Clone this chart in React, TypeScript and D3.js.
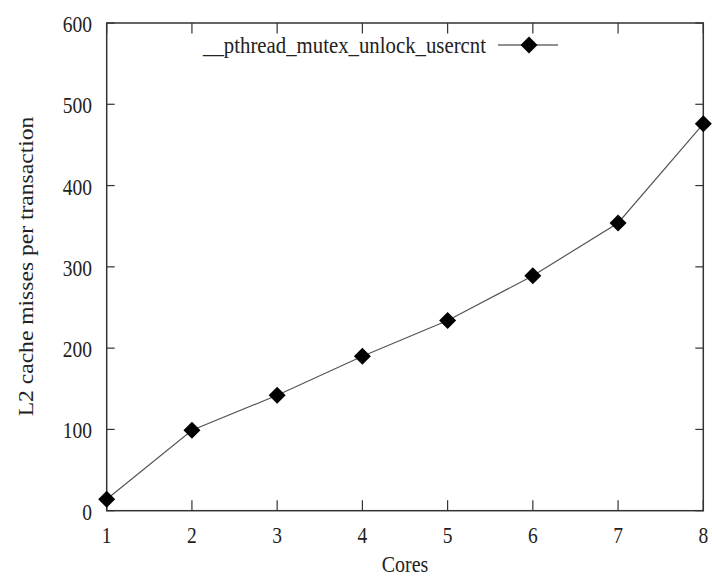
import React from "react";
import * as d3 from "d3";

const cores = [1, 2, 3, 4, 5, 6, 7, 8];
const misses = [14, 99, 142, 190, 234, 289, 354, 476];
const yTicks = [0, 100, 200, 300, 400, 500, 600];
const xTicks = [1, 2, 3, 4, 5, 6, 7, 8];
const seriesName = "__pthread_mutex_unlock_usercnt";
const xTitle = "Cores";
const yTitle = "L2 cache misses per transaction";

const W = 712, H = 578;
const M = { left: 106.7, right: 703.3, top: 23, bottom: 510.7 };
const FONT = "'Liberation Serif', 'DejaVu Serif', serif";
const SY = 1.15;

export default function App() {
  const x = d3.scaleLinear().domain([1, 8]).range([M.left, M.right]);
  const y = d3.scaleLinear().domain([0, 600]).range([M.bottom, M.top]);
  const line = d3.line<number>().x((_, i) => x(cores[i])).y((d) => y(d));
  const diamond = (cx: number, cy: number, r = 8.5) =>
    `M${cx},${cy - r}L${cx + r},${cy}L${cx},${cy + r}L${cx - r},${cy}Z`;
  const axisColor = "#333";
  const txt = "#222";
  return (
    <svg width={W} height={H} style={{ position: "absolute", left: 0, top: 0, background: "#fff" }} fontFamily={FONT}>
      <rect x={0} y={0} width={W} height={H} fill="#fff" />
      <rect x={M.left} y={M.top} width={M.right - M.left} height={M.bottom - M.top} fill="none" stroke={axisColor} strokeWidth={1.5} />
      {yTicks.map((t) => (
        <g key={"y" + t}>
          <line x1={M.left} x2={M.left + 8} y1={y(t)} y2={y(t)} stroke={axisColor} strokeWidth={1.2} />
          <line x1={M.right} x2={M.right - 8} y1={y(t)} y2={y(t)} stroke={axisColor} strokeWidth={1.2} />
          <text transform={`translate(92,${y(t) + 9}) scale(1,${SY})`} textAnchor="end" fontSize={19.5} fill={txt}>{t}</text>
        </g>
      ))}
      {xTicks.map((t) => (
        <g key={"x" + t}>
          <line x1={x(t)} x2={x(t)} y1={M.bottom} y2={M.bottom - 10.5} stroke={axisColor} strokeWidth={1.2} />
          <line x1={x(t)} x2={x(t)} y1={M.top} y2={M.top + 10.5} stroke={axisColor} strokeWidth={1.2} />
          <text transform={`translate(${x(t)},542.5) scale(1,${SY})`} textAnchor="middle" fontSize={19.5} fill={txt}>{t}</text>
        </g>
      ))}
      <text transform={`translate(405,572) scale(1,${SY})`} textAnchor="middle" fontSize={20} fill={txt}>{xTitle}</text>
      <text transform={`translate(33,266.5) rotate(-90) scale(${SY},1)`} textAnchor="middle" fontSize={20.5} fill={txt}>{yTitle}</text>
      <text transform={`translate(486,53) scale(1,${SY})`} textAnchor="end" fontSize={20.8} fill={txt}>{seriesName}</text>
      <line x1={498} x2={558} y1={45} y2={45} stroke="#222" strokeWidth={1.2} />
      <path d={diamond(529, 45)} fill="#000" />
      <path d={line(misses) || ""} fill="none" stroke="#555" strokeWidth={1.2} />
      {misses.map((v, i) => (
        <path key={i} d={diamond(x(cores[i]), y(v))} fill="#000" />
      ))}
    </svg>
  );
}
